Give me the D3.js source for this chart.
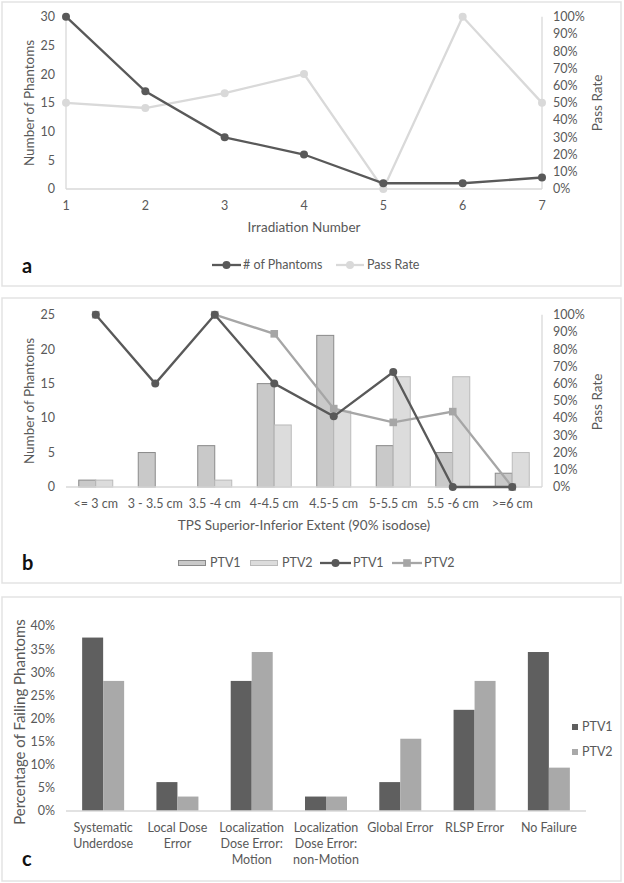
<!DOCTYPE html>
<html><head><meta charset="utf-8">
<script src="https://cdn.jsdelivr.net/npm/d3@7"></script>
<style>
html,body{margin:0;padding:0;background:#fff;}
svg text{font-family:Lato,"Open Sans",sans-serif;fill:#595959;}
</style></head>
<body>
<svg id="c" width="624" height="883"></svg>
<script>
// ---------- Data ----------
const irradiation = [1,2,3,4,5,6,7];
const phantomsCount = [30,17,9,6,1,1,2];
const passRateA = [0.50,0.47,0.556,0.667,0,1.0,0.50];
const countTicksA = [0,5,10,15,20,25,30];
const pctTicks = [0,0.1,0.2,0.3,0.4,0.5,0.6,0.7,0.8,0.9,1.0];

const extentCats = ["<= 3 cm","3 - 3.5 cm","3.5 -4 cm","4-4.5 cm","4.5-5 cm","5-5.5 cm","5.5 -6 cm",">=6 cm"];
const ptv1Count = [1,5,6,15,22,6,5,2];
const ptv2Count = [1,0,1,9,11,16,16,5];
const ptv1Pass = [1.0,0.6,1.0,0.6,0.41,0.667,0,0];
const ptv2Pass = [1.0,null,1.0,0.889,0.455,0.375,0.4375,0];
const countTicksB = [0,5,10,15,20,25];

const failCats = [["Systematic","Underdose"],["Local Dose","Error"],["Localization","Dose Error:","Motion"],["Localization","Dose Error:","non-Motion"],["Global Error"],["RLSP Error"],["No Failure"]];
const failPTV1 = [0.375,0.0625,0.28125,0.03125,0.0625,0.21875,0.34375];
const failPTV2 = [0.28125,0.03125,0.34375,0.03125,0.15625,0.28125,0.09375];
const failTicks = [0,0.05,0.10,0.15,0.20,0.25,0.30,0.35,0.40];

// ---------- Style ----------
const dark = "#595959", light = "#d9d9d9", axisCol = "#d9d9d9";
const svg = d3.select("#c");
const fmtPct = d3.format(".0%");

function frame(y0, y1){
  svg.append("rect").attr("x",2).attr("y",y0).attr("width",619).attr("height",y1-y0)
    .attr("fill","none").attr("stroke","#e3e3e3").attr("stroke-width",1.5);
}
function panelLetter(t, y){
  svg.append("text").attr("x",22).attr("y",y).text(t)
    .style("font-size","20px").style("font-weight","bold").style("fill","#111");
}
function leftTicks(g, scale, ticks, fmt, x){
  g.selectAll(null).data(ticks).enter().append("text")
    .attr("x",x).attr("y",d=>scale(d)).attr("dy","0.35em").attr("text-anchor","end")
    .style("font-size","12.5px").text(fmt);
}
function rightTicks(g, scale, ticks, x){
  g.selectAll(null).data(ticks).enter().append("text")
    .attr("x",x).attr("y",d=>scale(d)).attr("dy","0.35em").attr("text-anchor","start")
    .style("font-size","12.5px").text(fmtPct);
}
function vTitle(t, x, y, fs){
  svg.append("text").attr("transform",`translate(${x},${y}) rotate(-90)`)
    .attr("text-anchor","middle").attr("dy","0.35em").style("font-size",fs||"13.5px").text(t);
}
function line(g, x1,y1,x2,y2,col,w){
  g.append("line").attr("x1",x1).attr("y1",y1).attr("x2",x2).attr("y2",y2)
    .attr("stroke",col).attr("stroke-width",w||1.3);
}

// ================= Panel a =================
frame(2,286);
{
  const g = svg.append("g");
  const x = d3.scalePoint().domain(irradiation).range([66,542]);
  const yL = d3.scaleLinear().domain([0,30]).range([189,16.7]);
  const yR = d3.scaleLinear().domain([0,1]).range([189,16.7]);
  line(g,66,yL(30),66,189,axisCol);
  line(g,542,yL(30),542,189,axisCol);
  line(g,66,189,542,189,axisCol);
  leftTicks(g,yL,countTicksA,d=>d,55);
  rightTicks(g,yR,pctTicks,553);
  g.selectAll(null).data(irradiation).enter().append("text")
    .attr("x",d=>x(d)).attr("y",206).attr("dy","0.35em").attr("text-anchor","middle")
    .style("font-size","12.5px").text(d=>d);
  svg.append("text").attr("x",304).attr("y",227).attr("dy","0.35em").attr("text-anchor","middle")
    .style("font-size","13.5px").text("Irradiation Number");
  vTitle("Number of Phantoms",29,103);
  vTitle("Pass Rate",597,103);

  const passData = irradiation.map((d,i)=>[d,passRateA[i]]);
  const cntData = irradiation.map((d,i)=>[d,phantomsCount[i]]);
  g.append("path").datum(passData).attr("fill","none").attr("stroke",light).attr("stroke-width",2.3)
    .attr("d",d3.line().x(d=>x(d[0])).y(d=>yR(d[1])));
  g.selectAll(null).data(passData).enter().append("circle")
    .attr("cx",d=>x(d[0])).attr("cy",d=>yR(d[1])).attr("r",4).attr("fill",light);
  g.append("path").datum(cntData).attr("fill","none").attr("stroke",dark).attr("stroke-width",2.3)
    .attr("d",d3.line().x(d=>x(d[0])).y(d=>yL(d[1])));
  g.selectAll(null).data(cntData).enter().append("circle")
    .attr("cx",d=>x(d[0])).attr("cy",d=>yL(d[1])).attr("r",4).attr("fill",dark);

  // legend
  const ly = 265;
  line(g,212,ly,241,ly,dark,2.3); g.append("circle").attr("cx",226.5).attr("cy",ly).attr("r",4).attr("fill",dark);
  g.append("text").attr("x",243).attr("y",ly).attr("dy","0.35em").style("font-size","12.5px").text("# of Phantoms");
  line(g,336,ly,364,ly,light,2.3); g.append("circle").attr("cx",350).attr("cy",ly).attr("r",4).attr("fill",light);
  g.append("text").attr("x",367).attr("y",ly).attr("dy","0.35em").style("font-size","12.5px").text("Pass Rate");
  panelLetter("a",273);
}

// ================= Panel b =================
frame(298,583);
{
  const g = svg.append("g");
  const x = d3.scaleBand().domain(extentCats).range([66,542]).paddingInner(0.4286).paddingOuter(0.2143);
  const xs = d3.scaleBand().domain(["PTV1","PTV2"]).range([0,x.bandwidth()]);
  const y0 = 487, y1 = 314.7;
  const yL = d3.scaleLinear().domain([0,25]).range([y0,y1]);
  const yR = d3.scaleLinear().domain([0,1]).range([y0,y1]);
  line(g,542,y1,542,y0,axisCol);
  leftTicks(g,yL,countTicksB,d=>d,55);
  rightTicks(g,yR,pctTicks,553);
  g.selectAll(null).data(extentCats).enter().append("text")
    .attr("x",d=>x(d)+x.bandwidth()/2).attr("y",504).attr("dy","0.35em").attr("text-anchor","middle")
    .style("font-size","12.5px").text(d=>d);
  svg.append("text").attr("x",304).attr("y",525).attr("dy","0.35em").attr("text-anchor","middle")
    .style("font-size","13.5px").text("TPS Superior-Inferior Extent (90% isodose)");
  vTitle("Number of Phantoms",29,401);
  vTitle("Pass Rate",597,402);

  const bar1 = {fill:"#c9c9c9", stroke:"#8a8a8a"}, bar2 = {fill:"#dcdcdc", stroke:"#bababa"};
  g.selectAll(null).data(extentCats).enter().append("rect")
    .attr("x",d=>x(d)+xs("PTV1")).attr("width",xs.bandwidth())
    .attr("y",(d,i)=>yL(ptv1Count[i])).attr("height",(d,i)=>y0-yL(ptv1Count[i]))
    .attr("fill",bar1.fill).attr("stroke",bar1.stroke).attr("stroke-width",1);
  g.selectAll(null).data(extentCats).enter().append("rect")
    .attr("x",d=>x(d)+xs("PTV2")).attr("width",xs.bandwidth())
    .attr("y",(d,i)=>yL(ptv2Count[i])).attr("height",(d,i)=>y0-yL(ptv2Count[i]))
    .attr("fill",bar2.fill).attr("stroke",bar2.stroke).attr("stroke-width",1)
    .attr("display",(d,i)=>ptv2Count[i]>0?null:"none");
  line(g,66,y0,542,y0,axisCol);

  const cx = d=>x(d)+x.bandwidth()/2;
  const p2 = extentCats.map((d,i)=>[d,ptv2Pass[i]]);
  const p1 = extentCats.map((d,i)=>[d,ptv1Pass[i]]);
  const mid = "#a6a6a6";
  g.append("path").datum(p2).attr("fill","none").attr("stroke",mid).attr("stroke-width",2.3)
    .attr("d",d3.line().defined(d=>d[1]!==null).x(d=>cx(d[0])).y(d=>yR(d[1])));
  g.selectAll(null).data(p2.filter(d=>d[1]!==null)).enter().append("rect")
    .attr("x",d=>cx(d[0])-3.8).attr("y",d=>yR(d[1])-3.8).attr("width",7.6).attr("height",7.6).attr("fill",mid);
  g.append("path").datum(p1).attr("fill","none").attr("stroke",dark).attr("stroke-width",2.3)
    .attr("d",d3.line().x(d=>cx(d[0])).y(d=>yR(d[1])));
  g.selectAll(null).data(p1).enter().append("circle")
    .attr("cx",d=>cx(d[0])).attr("cy",d=>yR(d[1])).attr("r",4).attr("fill",dark);

  // legend
  const ly = 563;
  g.append("rect").attr("x",178.5).attr("y",ly-2.5).attr("width",27).attr("height",5).attr("fill",bar1.fill).attr("stroke",bar1.stroke);
  g.append("text").attr("x",210).attr("y",ly).attr("dy","0.35em").style("font-size","12.5px").text("PTV1");
  g.append("rect").attr("x",250.5).attr("y",ly-2.5).attr("width",27).attr("height",5).attr("fill",bar2.fill).attr("stroke",bar2.stroke);
  g.append("text").attr("x",282).attr("y",ly).attr("dy","0.35em").style("font-size","12.5px").text("PTV2");
  line(g,320,ly,351,ly,dark,2.3); g.append("circle").attr("cx",335.5).attr("cy",ly).attr("r",4).attr("fill",dark);
  g.append("text").attr("x",353).attr("y",ly).attr("dy","0.35em").style("font-size","12.5px").text("PTV1");
  line(g,392,ly,422,ly,mid,2.3); g.append("rect").attr("x",403.2).attr("y",ly-3.8).attr("width",7.6).attr("height",7.6).attr("fill",mid);
  g.append("text").attr("x",424).attr("y",ly).attr("dy","0.35em").style("font-size","12.5px").text("PTV2");
  panelLetter("b",570);
}

// ================= Panel c =================
frame(597,881);
{
  const g = svg.append("g");
  const names = failCats.map(d=>d.join(" "));
  const x = d3.scaleBand().domain(names).range([66,586]).paddingInner(0.4346).paddingOuter(0.2173);
  const xs = d3.scaleBand().domain(["PTV1","PTV2"]).range([0,x.bandwidth()]);
  const y0 = 811;
  const y = d3.scaleLinear().domain([0,0.4]).range([y0,626]);
  leftTicks(g,y,failTicks,fmtPct,55);
  vTitle("Percentage of Failing Phantoms",20,722,"15px");
  const c1 = "#5f5f5f", c2 = "#a9a9a9";
  g.selectAll(null).data(names).enter().append("rect")
    .attr("x",d=>x(d)+xs("PTV1")).attr("width",xs.bandwidth())
    .attr("y",(d,i)=>y(failPTV1[i])).attr("height",(d,i)=>y0-y(failPTV1[i])).attr("fill",c1);
  g.selectAll(null).data(names).enter().append("rect")
    .attr("x",d=>x(d)+xs("PTV2")).attr("width",xs.bandwidth())
    .attr("y",(d,i)=>y(failPTV2[i])).attr("height",(d,i)=>y0-y(failPTV2[i])).attr("fill",c2);
  line(g,66,y0,586,y0,axisCol);
  const lab = g.selectAll(null).data(failCats).enter().append("text")
    .attr("text-anchor","middle").style("font-size","12.5px");
  lab.each(function(lines,i){
    const t = d3.select(this);
    const cx = x(names[i])+x.bandwidth()/2;
    lines.forEach((s,k)=>t.append("tspan").attr("x",cx).attr("y",828+k*15.7).attr("dy","0.35em").text(s));
  });
  g.append("rect").attr("x",572).attr("y",724).attr("width",6).attr("height",6).attr("fill",c1);
  g.append("text").attr("x",582).attr("y",727).attr("dy","0.35em").style("font-size","12.5px").text("PTV1");
  g.append("rect").attr("x",572).attr("y",749).attr("width",6).attr("height",6).attr("fill",c2);
  g.append("text").attr("x",582).attr("y",752).attr("dy","0.35em").style("font-size","12.5px").text("PTV2");
  panelLetter("c",866);
}
</script>
</body></html>
